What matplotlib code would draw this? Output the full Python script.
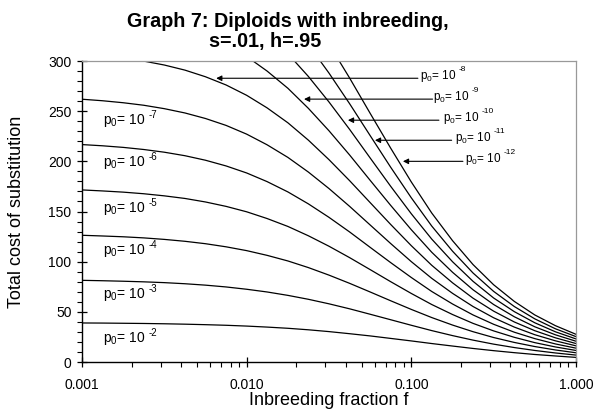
import matplotlib
matplotlib.use("Agg")
import matplotlib.pyplot as plt

plt.rcParams['font.family'] = ['Liberation Sans', 'DejaVu Sans']
plt.rcParams['mathtext.fontset'] = 'custom'
plt.rcParams['mathtext.rm'] = 'Liberation Sans'
plt.rcParams['mathtext.default'] = 'regular'

# Inbreeding fraction f (eighth-decade steps from 0.001 to 1)
f_vals = [0.001, 0.00133, 0.00178, 0.00237, 0.00316, 0.00422, 0.00562, 0.0075,
          0.01, 0.0133, 0.0178, 0.0237, 0.0316, 0.0422, 0.0562, 0.075,
          0.1, 0.133, 0.178, 0.237, 0.316, 0.422, 0.562, 0.75, 1.0]

# Total cost of substitution for each starting frequency p0 = 10^-k
cost_p2 = [38.9, 38.8, 38.6, 38.4, 38.1, 37.7, 37.2, 36.6, 35.8, 34.8, 33.6, 32.1, 30.3,
           28.2, 26.0, 23.5, 21.0, 18.4, 15.9, 13.5, 11.3, 9.3, 7.5, 6.0, 4.6]
cost_p3 = [81.4, 81.0, 80.5, 79.9, 79.1, 78.0, 76.6, 74.8, 72.5, 69.8, 66.4, 62.5, 58.0,
           53.0, 47.6, 42.1, 36.6, 31.3, 26.3, 21.8, 17.8, 14.4, 11.5, 9.0, 6.9]
cost_p4 = [126.3, 125.6, 124.8, 123.7, 122.2, 120.3, 117.9, 114.8, 111.0, 106.3, 100.7, 94.1,
           86.6, 78.4, 69.8, 61.0, 52.4, 44.3, 36.8, 30.2, 24.4, 19.5, 15.4, 12.0, 9.2]
cost_p5 = [171.5, 170.5, 169.3, 167.7, 165.6, 163.0, 159.5, 155.1, 149.7, 143.0, 135.1, 125.8,
           115.4, 104.0, 92.1, 80.0, 68.3, 57.3, 47.3, 38.5, 31.0, 24.6, 19.3, 15.0, 11.5]
cost_p6 = [216.7, 215.5, 213.9, 211.8, 209.1, 205.6, 201.1, 195.4, 188.4, 179.8, 169.5, 157.6,
           144.2, 129.6, 114.3, 99.0, 84.2, 70.3, 57.8, 46.9, 37.6, 29.7, 23.3, 18.0, 13.8]
cost_p7 = [261.9, 260.4, 258.4, 255.9, 252.5, 248.2, 242.7, 235.8, 227.1, 216.5, 203.9, 189.3,
           172.9, 155.1, 136.6, 118.0, 100.0, 83.4, 68.4, 55.3, 44.1, 34.8, 27.2, 21.1, 16.1]
cost_p8 = [None, None, 303.0, 299.9, 296.0, 290.9, 284.3, 276.1, 265.8, 253.3, 238.4, 221.1,
           201.7, 180.7, 158.9, 137.0, 115.9, 96.4, 78.9, 63.6, 50.7, 39.9, 31.2, 24.1, 18.4]
cost_p9 = [None] * 8 + [304.5, 290.0, 272.8, 252.8, 230.5, 206.3, 181.1, 156.0, 131.8, 109.4,
                        89.4, 72.0, 57.3, 45.1, 35.1, 27.1, 20.7]
cost_p10 = [None] * 10 + [307.2, 284.6, 259.2, 231.8, 203.4, 175.0, 147.7, 122.5, 99.9, 80.4,
                          63.8, 50.2, 39.1, 30.1, 23.0]
cost_p11 = [None] * 11 + [316.3, 288.0, 257.4, 225.7, 194.0, 163.6, 135.5, 110.4, 88.7, 70.4,
                          55.3, 43.0, 33.1, 25.3]
cost_p12 = [None] * 12 + [316.8, 283.0, 247.9, 213.0, 179.4, 148.5, 120.9, 97.1, 77.0, 60.4,
                          46.9, 36.2, 27.6]

series = [cost_p2, cost_p3, cost_p4, cost_p5, cost_p6, cost_p7,
          cost_p8, cost_p9, cost_p10, cost_p11, cost_p12]

# Labels written inside the plot for the lower curves
left_label_exps = ['-7', '-6', '-5', '-4', '-3', '-2']
left_label_y = [240.3, 198.6, 153.2, 111.0, 67.6, 23.5]

# Labels with arrows for the upper curves
arrow_exps = ['-8', '-9', '-10', '-11', '-12']
arrow_tip_f = [0.00653, 0.0223, 0.0412, 0.0601, 0.0889]
arrow_y = [282.8, 262.0, 241.0, 221.0, 200.0]
arrow_tail_f = [0.1096, 0.1346, 0.1471, 0.1757, 0.2057]
arrow_text_f = [0.1128, 0.1353, 0.1555, 0.184, 0.2116]

fig = plt.figure(figsize=(6.02, 4.13), dpi=100)
ax = fig.add_axes([82 / 602, 1 - 362 / 413, (576 - 82) / 602, (362 - 61) / 413])

for cost in series:
    pts = [(f, c) for f, c in zip(f_vals, cost) if c is not None]
    ax.plot([p[0] for p in pts], [p[1] for p in pts], color='black', lw=0.9)

ax.set_xscale('log')
ax.set_xlim(0.001, 1.0)
ax.set_ylim(0, 300)
ax.set_xticks([0.001, 0.01, 0.1, 1.0])
ax.set_xticklabels(['0.001', '0.010', '0.100', '1.000'])
ax.set_yticks(range(0, 301, 50))
ax.set_yticks(range(0, 301, 10), minor=True)

ax.tick_params(which='major', direction='inout', length=7, width=0.9, labelsize=10, pad=4)
ax.tick_params(which='minor', direction='out', length=3.5, width=0.8)
ax.tick_params(axis='x', which='major', pad=8)

for side in ('top', 'right'):
    ax.spines[side].set_color('#999999')
    ax.spines[side].set_linewidth(0.9)
for side in ('left', 'bottom'):
    ax.spines[side].set_color('black')
    ax.spines[side].set_linewidth(1.0)

ax.set_xlabel('Inbreeding fraction f', fontsize=13, labelpad=0)
ax.set_ylabel('Total cost of substitution', fontsize=13)
ax.yaxis.set_label_coords(-57 / 494, 0.5)


def p0_label(x, y, exp, size, sup_size):
    base = ax.text(x, y, r'p$_0$= 10', fontsize=size, ha='left', va='center')
    ax.annotate(exp, xy=(1, 1), xycoords=base, xytext=(2, 1.5), textcoords='offset points',
                fontsize=sup_size, ha='left', va='top')


for e, y in zip(left_label_exps, left_label_y):
    p0_label(0.00134, y, e, 10, 7)

for e, tf, ty, af, xf in zip(arrow_exps, arrow_tip_f, arrow_y, arrow_tail_f, arrow_text_f):
    ax.annotate('', xy=(tf, ty), xytext=(af, ty),
                arrowprops=dict(arrowstyle='-|>', lw=0.8, color='black',
                                mutation_scale=8, shrinkA=0, shrinkB=0))
    p0_label(xf, ty + 2, e, 8.5, 6)

fig.text(288 / 602, 1 - 21.7 / 413, 'Graph 7: Diploids with inbreeding,', fontsize=14.2,
         fontweight='bold', ha='center', va='center')
fig.text(265 / 602, 1 - 41.7 / 413, 's=.01, h=.95', fontsize=14.2,
         fontweight='bold', ha='center', va='center')

fig.savefig('out.png', dpi=100)
